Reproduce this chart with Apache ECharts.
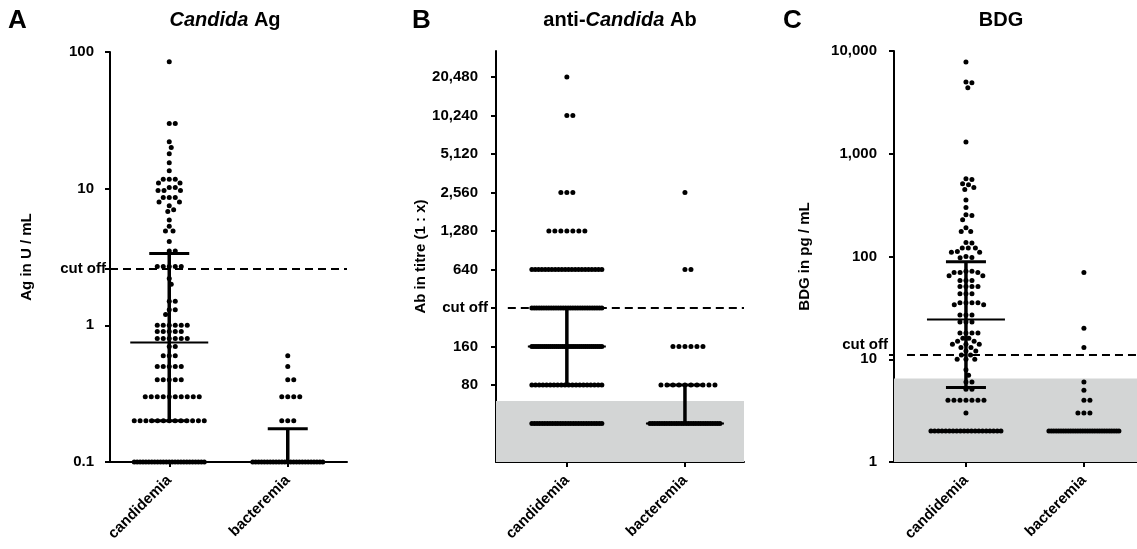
<!DOCTYPE html>
<html>
<head>
    <meta charset="utf-8">
    <title>Candida Ag / anti-Candida Ab / BDG</title>
    <script src="https://cdn.jsdelivr.net/npm/echarts@6/dist/echarts.min.js"></script>
</head>
<body style="margin:0">
    <div id="main" style="width:1137px;height:549px;"></div>
    <script type="text/javascript">
var groups = ['candidemia', 'bacteremia'];

// A: Candida Ag, U / mL
var agCandidemia = [85, 30, 30, 22, 20, 18, 15.5, 13.5,
    11.7, 11.7, 11.7, 11, 11, 10.2, 10.2, 9.7, 9.7, 9.7, 8.6, 8.6, 8.6, 8, 8, 7.5, 7, 6.8,
    5.9, 5.3, 4.9, 4.9, 4.1, 3.5, 3.5, 2.7, 2.7, 2.7, 2.7, 2.7, 2.2, 2, 1.5, 1.5, 1.3, 1.3, 1.2,
    1, 1, 1, 1, 1, 1, 0.9, 0.9, 0.9, 0.9, 0.9, 0.8, 0.8, 0.8, 0.8, 0.8, 0.8, 0.7, 0.7,
    0.6, 0.6, 0.6, 0.5, 0.5, 0.5, 0.5, 0.5, 0.4, 0.4, 0.4, 0.4, 0.4,
    0.3, 0.3, 0.3, 0.3, 0.3, 0.3, 0.3, 0.3, 0.3, 0.3,
    0.2, 0.2, 0.2, 0.2, 0.2, 0.2, 0.2, 0.2, 0.2, 0.2, 0.2, 0.2, 0.2,
    0.1, 0.1, 0.1, 0.1, 0.1, 0.1, 0.1, 0.1, 0.1, 0.1, 0.1, 0.1, 0.1, 0.1, 0.1, 0.1, 0.1, 0.1, 0.1, 0.1, 0.1, 0.1, 0.1, 0.1, 0.1];
var agBacteremia = [0.6, 0.5, 0.4, 0.4, 0.3, 0.3, 0.3, 0.3, 0.2, 0.2, 0.2,
    0.1, 0.1, 0.1, 0.1, 0.1, 0.1, 0.1, 0.1, 0.1, 0.1, 0.1, 0.1, 0.1, 0.1, 0.1, 0.1, 0.1, 0.1, 0.1, 0.1, 0.1, 0.1, 0.1, 0.1, 0.1];
var agStats = [[0.75, 0.2, 3.35], [0.1, 0.1, 0.175]];   // median, q1, q3
var agCutoff = 2.6;
var agTicks = [0.1, 1, 10, 100];
var agTickLabels = ['0.1', '1', '10', '100'];

// B: anti-Candida Ab, titre 1 : x (40 = below 80)
var abCandidemia = [20480, 10240, 10240, 2560, 2560, 2560,
    1280, 1280, 1280, 1280, 1280, 1280, 1280,
    640, 640, 640, 640, 640, 640, 640, 640, 640, 640, 640, 640, 640, 640, 640, 640, 640, 640, 640, 640, 640, 640,
    320, 320, 320, 320, 320, 320, 320, 320, 320, 320, 320, 320, 320, 320, 320, 320, 320, 320, 320, 320, 320, 320, 320, 320, 320, 320, 320, 320, 320, 320,
    160, 160, 160, 160, 160, 160, 160, 160, 160, 160, 160, 160, 160, 160, 160, 160, 160, 160, 160, 160, 160, 160, 160, 160, 160, 160, 160, 160, 160, 160, 160, 160, 160, 160, 160,
    80, 80, 80, 80, 80, 80, 80, 80, 80, 80, 80, 80, 80, 80, 80, 80, 80, 80, 80, 80,
    40, 40, 40, 40, 40, 40, 40, 40, 40, 40, 40, 40, 40, 40, 40, 40, 40, 40, 40, 40, 40, 40, 40, 40, 40, 40, 40, 40];
var abBacteremia = [2560, 640, 640, 160, 160, 160, 160, 160, 160,
    80, 80, 80, 80, 80, 80, 80, 80, 80, 80,
    40, 40, 40, 40, 40, 40, 40, 40, 40, 40, 40, 40, 40, 40, 40, 40, 40, 40, 40, 40, 40, 40, 40, 40, 40, 40, 40, 40, 40, 40];
var abStats = [[160, 80, 320], [40, 40, 80]];
var abCutoff = 320;
var abTicks = [80, 160, 640, 1280, 2560, 5120, 10240, 20480];
var abTickLabels = ['80', '160', '640', '1,280', '2,560', '5,120', '10,240', '20,480'];
var abShade = 60;

// C: BDG, pg / mL
var bdgCandidemia = [7800, 5000, 4900, 4400, 1300, 570, 560, 510, 500, 470, 450,
    355, 300, 255, 250, 228, 190, 175, 175, 137, 135, 121, 121, 121, 112, 110, 110, 100, 98, 97,
    72, 72, 70, 70, 70, 65, 65, 58.5, 58.5, 58.5, 51, 51, 51, 51, 43.5, 43.5, 43.5,
    35.5, 35.5, 35.5, 35.5, 34, 34, 27, 27, 27, 23, 23, 23, 18, 18, 18, 18, 16, 16, 15, 15,
    14, 14, 14, 13, 13, 12, 12, 11, 11, 10, 10, 10, 7.9, 7, 6, 6, 5.1, 5.1,
    4, 4, 4, 4, 4, 4, 4, 3,
    2, 2, 2, 2, 2, 2, 2, 2, 2, 2, 2, 2, 2, 2, 2, 2, 2, 2, 2, 2];
var bdgBacteremia = [70, 20, 13, 6, 5, 4, 4, 3, 3, 3,
    2, 2, 2, 2, 2, 2, 2, 2, 2, 2, 2, 2, 2, 2, 2, 2, 2, 2, 2, 2, 2, 2, 2, 2, 2, 2, 2, 2, 2, 2];
var bdgStats = [[24.4, 5.3, 89], null];
var bdgCutoff = 11;
var bdgTicks = [1, 10, 100, 1000, 10000];
var bdgTickLabels = ['1', '10', '100', '1,000', '10,000'];
var bdgShade = 6.5;

var FONT = '"Liberation Sans", Arial, Helvetica, sans-serif';
var DOT = 6;        // closest distance between two dot centres, px
var ROW_MAX = 70;   // long rows of equal values get squeezed into this width, px

var panels = [
    {letter: 'A', letterX: 8, title: '{i|Candida} Ag', titleX: 225, name: 'Ag in U / mL', nameGap: 76,
     grid: {left: 110, top: 52, width: 237, height: 410}, xRange: [0, 2], logBase: 10, yRange: [0.1, 100],
     ticks: agTicks, tickLabels: agTickLabels, cutoff: agCutoff, margin: 4, pad: 12, lift: 0,
     data: [agCandidemia, agBacteremia], stats: agStats, shade: null},
    {letter: 'B', letterX: 412, title: 'anti-{i|Candida} Ab', titleX: 620, name: 'Ab in titre (1 : x)', nameGap: 62,
     grid: {left: 496, top: 51, width: 248, height: 411}, xRange: [-0.1, 2.0], logBase: 2, yRange: [20, 32768],
     ticks: abTicks, tickLabels: abTickLabels, cutoff: abCutoff, margin: 8, pad: 10, lift: 0,
     data: [abCandidemia, abBacteremia], stats: abStats, shade: abShade},
    {letter: 'C', letterX: 783, title: 'BDG', titleX: 1001, name: 'BDG in pg / mL', nameGap: 82,
     grid: {left: 894, top: 51, width: 243, height: 411}, xRange: [-0.11, 1.95], logBase: 10, yRange: [1, 10000],
     ticks: bdgTicks, tickLabels: bdgTickLabels, cutoff: bdgCutoff, margin: 6, pad: 11, lift: 20,
     data: [bdgCandidemia, bdgBacteremia], stats: bdgStats, shade: bdgShade}
];

var chart = echarts.init(document.getElementById('main'));
var black = {color: '#000', width: 2};

var option = {animation: false, title: [], grid: [], xAxis: [], yAxis: [], series: []};
var swarmSeries = [];

panels.forEach(function (p, g) {
    option.title.push({
        text: p.letter, left: p.letterX, top: 8, padding: 0,
        textStyle: {fontFamily: FONT, fontSize: 26, fontWeight: 'bold', color: '#000'}
    });
    option.title.push({
        text: p.title, left: p.titleX, textAlign: 'center', top: 10, padding: 0,
        textStyle: {
            fontFamily: FONT, fontSize: 20, fontWeight: 'bold', color: '#000',
            rich: {i: {fontFamily: FONT, fontSize: 20, fontWeight: 'bold', fontStyle: 'italic', color: '#000'}}
        }
    });
    option.grid.push({
        left: p.grid.left, top: p.grid.top, width: p.grid.width, height: p.grid.height,
        outerBoundsMode: 'none', containLabel: false
    });
    option.xAxis.push({
        gridIndex: g, type: 'value', min: p.xRange[0], max: p.xRange[1],
        splitLine: {show: false},
        axisLine: {onZero: false, lineStyle: black},
        axisTick: {customValues: [0.5, 1.5], length: 5, lineStyle: black},
        axisLabel: {
            customValues: [0.5, 1.5], rotate: 45, margin: 16,
            color: '#000', fontFamily: FONT, fontSize: 15, fontWeight: 'bold',
            formatter: function (v) { return groups[Math.round(v - 0.5)]; }
        }
    });
    var yTicks = p.ticks.concat([p.cutoff]);
    var font = {fontFamily: FONT, fontSize: 15, fontWeight: 'bold', color: '#000'};
    option.yAxis.push({
        gridIndex: g, type: 'log', logBase: p.logBase, min: p.yRange[0], max: p.yRange[1],
        name: p.name, nameLocation: 'middle', nameGap: p.nameGap,
        nameTextStyle: font,
        splitLine: {show: false},
        axisLine: {show: true, onZero: false, lineStyle: black},
        axisTick: {customValues: yTicks, length: 5, lineStyle: black},
        axisLabel: {
            customValues: yTicks, margin: p.margin,
            fontFamily: FONT, fontSize: 15, fontWeight: 'bold', color: '#000',
            formatter: function (v) {
                if (Math.abs(v - p.cutoff) < 1e-6 * p.cutoff) return '{c|cut off}';
                for (var i = 0; i < p.ticks.length; i++) {
                    if (Math.abs(v - p.ticks[i]) < 1e-6 * p.ticks[i]) return '{n|' + p.tickLabels[i] + '}';
                }
                return '';
            },
            rich: {
                n: Object.assign({padding: [0, p.pad, 0, 0]}, font),
                c: Object.assign({padding: [0, 0, p.lift, 0]}, font)
            }
        }
    });

    // grey band and dashed cut-off line
    var back = {
        type: 'line', xAxisIndex: g, yAxisIndex: g, data: [], z: 1, silent: true,
        markLine: {
            silent: true, symbol: 'none', label: {show: false},
            lineStyle: {color: '#000', width: 2, type: [8, 5]},
            data: [[{coord: [0, p.cutoff]}, {coord: [p.xRange[1], p.cutoff]}]]
        }
    };
    if (p.shade) {
        back.markArea = {
            silent: true, itemStyle: {color: '#d3d5d5'},
            data: [[{yAxis: p.yRange[0]}, {yAxis: p.shade}]]
        };
    }
    option.series.push(back);

    p.data.forEach(function (vals, k) {
        var s = {
            type: 'scatter', xAxisIndex: g, yAxisIndex: g, z: 2, silent: true,
            symbolSize: 5, itemStyle: {color: '#000', opacity: 1}, data: []
        };
        option.series.push(s);
        swarmSeries.push({series: s, values: vals, grid: g, center: k + 0.5});
    });

    var statData = [];
    p.stats.forEach(function (st, k) {
        if (st) statData.push([k + 0.5, st[0], st[1], st[2]]);
    });
    option.series.push({
        type: 'custom', xAxisIndex: g, yAxisIndex: g, z: 3, silent: true,
        encode: {x: 0, y: 1},
        data: statData,
        renderItem: function (params, api) {
            var x = api.value(0);
            var m = api.coord([x, api.value(1)]);
            var lo = api.coord([x, api.value(2)]);
            var hi = api.coord([x, api.value(3)]);
            var line = function (x1, y1, x2, y2, w) {
                return {type: 'line', shape: {x1: x1, y1: y1, x2: x2, y2: y2}, style: {stroke: '#000', lineWidth: w}};
            };
            return {type: 'group', children: [
                line(m[0], lo[1], m[0], hi[1], 3.5),
                line(m[0] - 39, m[1], m[0] + 39, m[1], 2),
                line(m[0] - 20, lo[1], m[0] + 20, lo[1], 3),
                line(m[0] - 20, hi[1], m[0] + 20, hi[1], 3)
            ]};
        }
    });
});

chart.setOption(option);

// column scatter: dots with (nearly) the same value are spread sideways
function swarm(values, g, cx) {
    var a = chart.convertToPixel({gridIndex: g}, [cx, values[0]]);
    var b = chart.convertToPixel({gridIndex: g}, [cx + 1, values[0]]);
    var pxPerUnit = b[0] - a[0];
    var py = function (v) { return chart.convertToPixel({gridIndex: g}, [cx, v])[1]; };
    var counts = {};
    values.forEach(function (v) { counts[v] = (counts[v] || 0) + 1; });
    var placed = [], out = [];
    function put(dx, v, y) {
        placed.push([dx, y]);
        out.push([cx + dx / pxPerUnit, v]);
    }
    Object.keys(counts).forEach(function (k) {
        var n = counts[k];
        if ((n - 1) * DOT <= ROW_MAX) return;
        var v = +k, y = py(v), step = ROW_MAX / (n - 1);
        for (var i = 0; i < n; i++) put(-ROW_MAX / 2 + i * step, v, y);
    });
    values.filter(function (v) { return (counts[v] - 1) * DOT <= ROW_MAX; })
        .sort(function (p, q) { return q - p; })
        .forEach(function (v) {
            var y = py(v), cands = [0];
            placed.forEach(function (p) {
                var dy = Math.abs(p[1] - y);
                if (dy < DOT) {
                    var dx = Math.sqrt(DOT * DOT - dy * dy);
                    cands.push(p[0] + dx, p[0] - dx);
                }
            });
            cands.sort(function (p, q) { return Math.abs(p) - Math.abs(q); });
            var x = cands.find(function (c) {
                return placed.every(function (p) {
                    var dx = p[0] - c, dy = p[1] - y;
                    return dx * dx + dy * dy >= DOT * DOT - 0.01;
                });
            });
            put(x, v, y);
        });
    return out;
}

swarmSeries.forEach(function (s) {
    s.series.data = swarm(s.values, s.grid, s.center);
});
chart.setOption(option);
    </script>
</body>
</html>
